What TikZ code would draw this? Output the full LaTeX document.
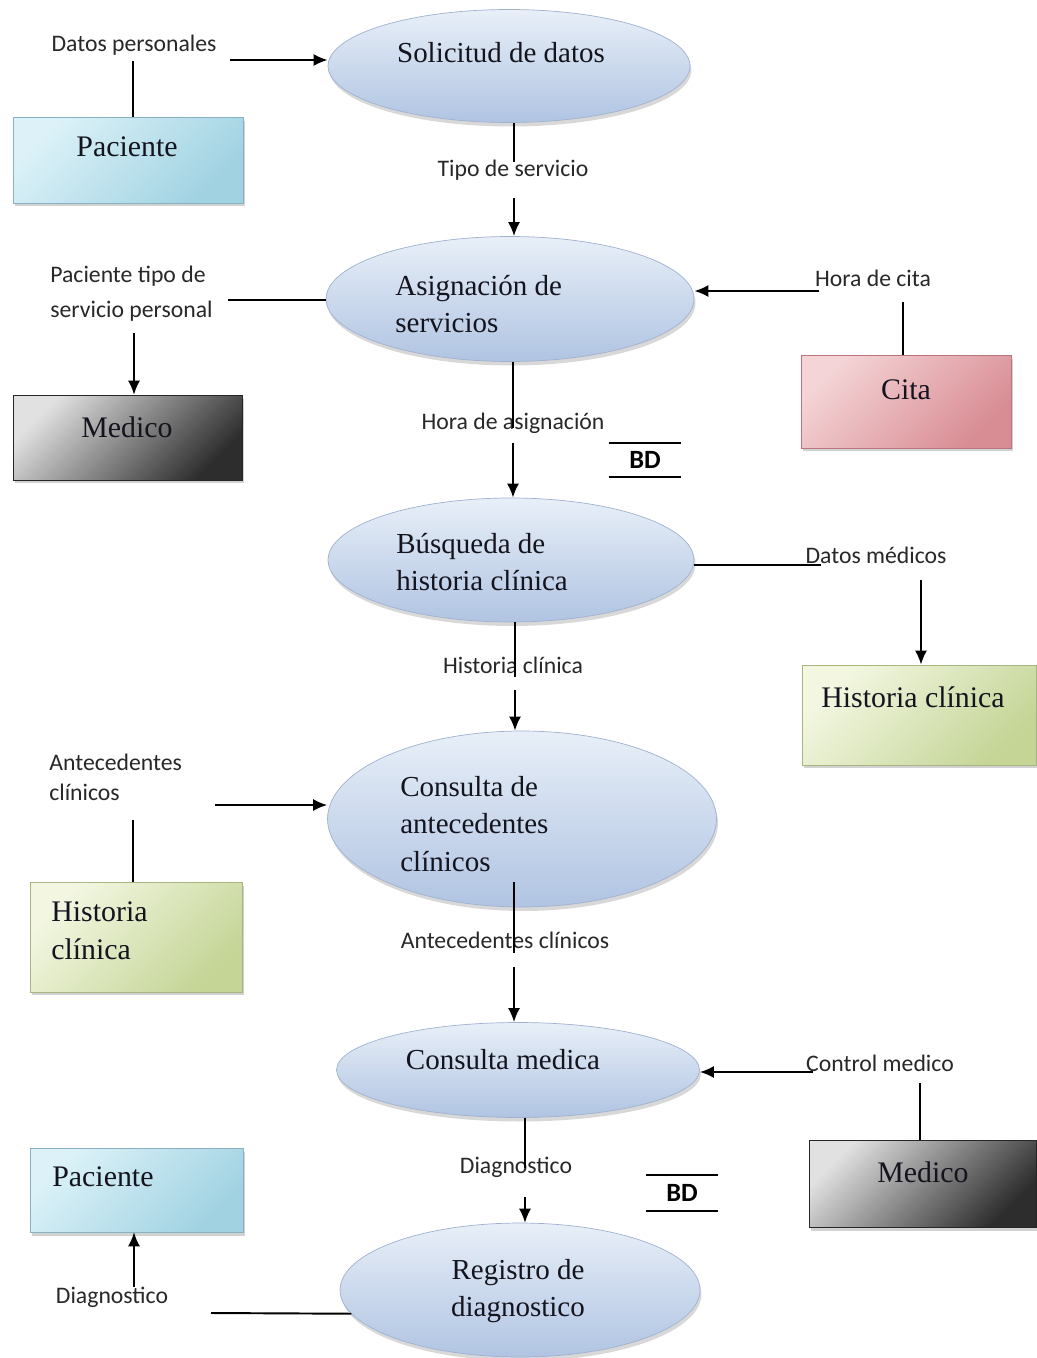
\documentclass[tikz,border=0pt]{standalone}
\usepackage{fontspec}
\setmainfont{Liberation Serif}
\newfontfamily\lblfont{Carlito}
\usetikzlibrary{arrows.meta,shapes.geometric,shadows,calc}
\definecolor{ellT}{RGB}{232,239,248}
\definecolor{ellB}{RGB}{176,196,226}
\definecolor{ellD}{RGB}{160,178,208}
\definecolor{pacT}{RGB}{220,242,248}
\definecolor{pacB}{RGB}{160,210,226}
\definecolor{medT}{RGB}{225,225,225}
\definecolor{medB}{RGB}{45,45,45}
\definecolor{citT}{RGB}{244,212,214}
\definecolor{citB}{RGB}{216,140,147}
\definecolor{hisT}{RGB}{243,247,226}
\definecolor{hisB}{RGB}{196,213,150}
\definecolor{lblC}{RGB}{40,40,40}
\definecolor{txtC}{RGB}{20,20,30}
\begin{document}
\begin{tikzpicture}[x=0.02cm,y=-0.02cm,
  proc/.style={ellipse, inner sep=0pt, draw=ellD, line width=0.4pt,
    top color=ellT, bottom color=ellB,
    drop shadow={opacity=0.3, shadow xshift=0.3mm, shadow yshift=-0.8mm}},
  ent/.style={rectangle, inner sep=0pt, draw=#1B!85!black, line width=0.4pt,
    top color=#1T, bottom color=#1B, shading angle=45,
    drop shadow={opacity=0.35, shadow xshift=0.4mm, shadow yshift=-0.7mm}},
  ptxt/.style={font={\fontsize{16.5}{21.5}\selectfont}, text=txtC, inner sep=0pt, align=left},
  btxt/.style={font={\fontsize{17}{21.5}\selectfont}, text=txtC, inner sep=0pt, align=left},
  lbl/.style={font={\lblfont\fontsize{13.5}{17}\selectfont}, text=lblC, inner sep=0pt, align=left},
  bdn/.style={font={\lblfont\bfseries\fontsize{15}{18}\selectfont}, text=black, inner sep=0pt},
  ln/.style={line width=1.1pt, black},
  arr/.style={line width=1.1pt, black, -{Latex[length=2.8mm,width=2.4mm]}}
]
\fill[white] (0,0) rectangle (1036,1358);
\useasboundingbox (0,0) rectangle (1036,1358);

% processes
\node[proc, minimum width=7.24cm, minimum height=2.26cm] (E1) at (509,66) {};
\node[proc, minimum width=7.36cm, minimum height=2.50cm] (E2) at (510,299) {};
\node[proc, minimum width=7.32cm, minimum height=2.48cm] (E3) at (511,560) {};
\node[proc, minimum width=7.78cm, minimum height=3.52cm] (E4) at (522,819) {};
\node[proc, minimum width=7.26cm, minimum height=1.90cm] (E5) at (518,1070) {};
\node[proc, minimum width=7.20cm, minimum height=2.68cm] (E6) at (520,1290) {};

% entities
\node[ent=pac, minimum width=4.60cm, minimum height=1.72cm] (B1) at (128,160) {};
\node[ent=med, minimum width=4.58cm, minimum height=1.70cm] (B2) at (127.5,437.5) {};
\node[ent=cit, minimum width=4.20cm, minimum height=1.86cm] (B3) at (906,401.5) {};
\node[ent=his, minimum width=4.68cm, minimum height=2.00cm] (B4) at (919,715) {};
\node[ent=his, minimum width=4.24cm, minimum height=2.20cm] (B5) at (136,937) {};
\node[ent=med, minimum width=4.54cm, minimum height=1.74cm] (B6) at (922.5,1183.5) {};
\node[ent=pac, minimum width=4.26cm, minimum height=1.68cm] (B7) at (136.5,1190) {};

% process texts
\node[ptxt] (t1) at (501,53) {Solicitud de datos};
\node[ptxt, anchor=west] (t2) at (395,304) {Asignación de\\servicios};
\node[ptxt, anchor=west] (t3) at (396,562) {Búsqueda de\\historia clínica};
\node[ptxt, anchor=west] (t4) at (400,824) {Consulta de\\antecedentes\\clínicos};
\node[ptxt] (t5) at (503,1060) {Consulta medica};
\node[ptxt, align=center] (t6) at (518,1291) {Registro de\\diagnostico};

% entity texts
\node[btxt] (u1) at (127,147) {Paciente};
\node[btxt] (u2) at (127,427) {Medico};
\node[btxt] (u3) at (906,390) {Cita};
\node[btxt] (u4) at (913,697) {Historia clínica};
\node[btxt, anchor=west] (u5) at (51,931) {Historia\\clínica};
\node[btxt] (u6) at (923,1172) {Medico};
\node[btxt, anchor=west] (u7) at (52,1177) {Paciente};

% flow labels
\node[lbl] (l1) at (134,45) {Datos personales};
\node[lbl] (l2) at (513,170) {Tipo de servicio};
\node[lbl, anchor=west, font={\lblfont\fontsize{13.5}{19.8}\selectfont}] (l3) at (50,294) {Paciente tipo de\\servicio personal};
\node[lbl] (l4) at (873,278) {Hora de cita};
\node[lbl] (l5) at (513,423) {Hora de asignación};
\node[lbl] (l6) at (876,555) {Datos médicos};
\node[lbl] (l7) at (513,665) {Historia clínica};
\node[lbl, anchor=west] (l8) at (49,777) {Antecedentes\\clínicos};
\node[lbl] (l9) at (505,940) {Antecedentes clínicos};
\node[lbl] (l10) at (880,1063) {Control medico};
\node[lbl] (l11) at (516,1167) {Diagnostico};
\node[lbl] (l12) at (112,1297) {Diagnostico};

% data stores
\node[bdn, minimum width=1.44cm, minimum height=0.68cm] (bd1) at (645,460) {BD};
\node[bdn, minimum width=1.42cm, minimum height=0.70cm] (bd2) at (682,1193) {BD};
\draw[ln] (bd1.north west) -- (bd1.north east);
\draw[ln] (bd1.south west) -- (bd1.south east);
\draw[ln] (bd2.north west) -- (bd2.north east);
\draw[ln] (bd2.south west) -- (bd2.south east);

% free ends
\coordinate (c1) at (133,61);
\coordinate (a1) at (230,60);
\coordinate (c3) at (514,162);
\coordinate (a2) at (514,198);
\coordinate (c4) at (228,300);
\coordinate (a3) at (134,333);
\coordinate (a4) at (819,291);
\coordinate (c5) at (903,302);
\coordinate (c6) at (513,428);
\coordinate (a5) at (513,443);
\coordinate (c7) at (821,565);
\coordinate (a6) at (921,580);
\coordinate (c8) at (515,677);
\coordinate (a7) at (515,690);
\coordinate (a8) at (215,805);
\coordinate (c9) at (133,820);
\coordinate (c10) at (514,953);
\coordinate (a9) at (514,967);
\coordinate (a10) at (813,1072);
\coordinate (c11) at (920,1083);
\coordinate (c12) at (525,1168);
\coordinate (a11) at (525,1197);
\coordinate (c13) at (211,1313);
\coordinate (a12) at (134,1287);

% connectors
\draw[ln] (c1) -- (c1 |- B1.north);
\draw[arr] (a1) -- (a1 -| E1.west);
\draw[ln] (c3 |- E1.south) -- (c3);
\draw[arr] (a2) -- (a2 |- E2.north);
\draw[ln] (c4) -- (c4 -| E2.west);
\draw[arr, line width=0.9pt] (a3) -- (a3 |- B2.north);
\draw[arr] (a4) -- (a4 -| E2.east);
\draw[ln, line width=0.8pt] (c5) -- (c5 |- B3.north);
\draw[ln] (c6 |- E2.south) -- (c6);
\draw[arr] (a5) -- (a5 |- E3.north);
\draw[ln] (c7 -| E3.east) -- (c7);
\draw[arr] (a6) -- (a6 |- B4.north);
\draw[ln] (c8 |- E3.south) -- (c8);
\draw[arr] (a7) -- (a7 |- E4.north);
\draw[arr] (a8) -- (a8 -| E4.west);
\draw[ln] (c9) -- (c9 |- B5.north);
\draw[ln] ($(E4.south -| c10)+(0,-25)$) -- (c10);
\draw[arr] (a9) -- (a9 |- E5.north);
\draw[arr] (a10) -- (a10 -| E5.east);
\draw[ln] (c11) -- (c11 |- B6.north);
\draw[ln, line width=0.9pt] (c12 |- E5.south) -- (c12);
\draw[arr, line width=0.9pt] (a11) -- (a11 |- E6.north);
\draw[ln] (c13) -- (E6.188);
\draw[arr, line width=0.9pt] (a12) -- (a12 |- B7.south);
\end{tikzpicture}
\end{document}
